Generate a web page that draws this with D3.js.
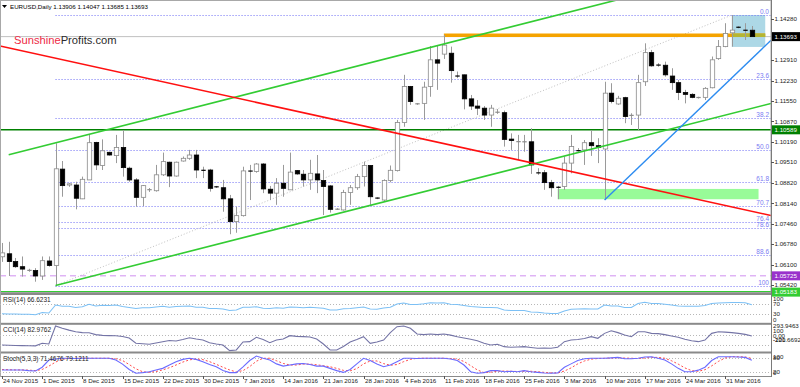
<!DOCTYPE html>
<html><head><meta charset="utf-8">
<script src="https://cdn.jsdelivr.net/npm/d3@7/dist/d3.min.js"></script>
<style>
html,body{margin:0;padding:0;background:#fff;overflow:hidden}
svg{display:block}
text{font-family:"Liberation Sans",Arial,sans-serif}
</style></head><body>
<svg id="chart" width="800" height="387"></svg>
<script>
// ---------------- DATA ----------------
const dates = ["2015-11-24","2015-11-25","2015-11-26","2015-11-27","2015-11-29","2015-11-30",
"2015-12-01","2015-12-02","2015-12-03","2015-12-04","2015-12-06","2015-12-07","2015-12-08","2015-12-09","2015-12-10","2015-12-11","2015-12-13","2015-12-14","2015-12-15","2015-12-16","2015-12-17","2015-12-18","2015-12-20","2015-12-21","2015-12-22","2015-12-23","2015-12-24","2015-12-27","2015-12-28","2015-12-29","2015-12-30","2015-12-31",
"2016-01-03","2016-01-04","2016-01-05","2016-01-06","2016-01-07","2016-01-08","2016-01-10","2016-01-11","2016-01-12","2016-01-13","2016-01-14","2016-01-15","2016-01-17","2016-01-18","2016-01-19","2016-01-20","2016-01-21","2016-01-22","2016-01-24","2016-01-25","2016-01-26","2016-01-27","2016-01-28","2016-01-29","2016-01-31",
"2016-02-01","2016-02-02","2016-02-03","2016-02-04","2016-02-05","2016-02-07","2016-02-08","2016-02-09","2016-02-10","2016-02-11","2016-02-12","2016-02-14","2016-02-15","2016-02-16","2016-02-17","2016-02-18","2016-02-19","2016-02-21","2016-02-22","2016-02-23","2016-02-24","2016-02-25","2016-02-26","2016-02-28","2016-02-29",
"2016-03-01","2016-03-02","2016-03-03","2016-03-04","2016-03-06","2016-03-07","2016-03-08","2016-03-09","2016-03-10","2016-03-11","2016-03-13","2016-03-14","2016-03-15","2016-03-16","2016-03-17","2016-03-18","2016-03-20","2016-03-21","2016-03-22","2016-03-23","2016-03-24","2016-03-25","2016-03-27","2016-03-28","2016-03-29","2016-03-30","2016-03-31",
"2016-04-01","2016-04-03","2016-04-04","2016-04-05"];

const open  = [1.0636,1.0646,1.0620,1.0603,1.0590,1.0590,1.0572,1.0622,1.0607,1.0928,1.0875,1.0875,1.0829,1.0892,1.1017,1.0940,1.0984,1.0973,1.1000,1.0931,1.0892,1.0834,1.0859,1.0856,1.0909,1.0951,1.0905,1.0955,1.0964,1.0975,1.0925,1.0925,1.0870,1.0866,1.0829,1.0753,1.0773,1.0922,1.0920,1.0945,1.0861,1.0848,1.0881,1.0859,1.0923,1.0911,1.0892,1.0912,1.0890,1.0872,1.0794,1.0792,1.0850,1.0866,1.0903,1.0940,1.0832,1.0825,1.0890,1.0923,1.1083,1.1203,1.1145,1.1147,1.1203,1.1292,1.1311,1.1314,1.1239,1.1242,1.1162,1.1138,1.1131,1.1108,1.1116,1.1116,1.1028,1.1019,1.1019,1.1019,1.0916,1.0916,1.0883,1.0868,1.0870,1.0948,1.0990,1.0992,1.1016,1.1006,1.0995,1.1181,1.1145,1.1166,1.1106,1.1108,1.1219,1.1316,1.1275,1.1274,1.1238,1.1216,1.1183,1.1177,1.1166,1.1167,1.1199,1.1296,1.1336,1.1382,1.1402,1.1391,1.13906];
const high  = [1.0682,1.0686,1.0632,1.0637,1.0596,1.0598,1.0637,1.0637,1.1014,1.0955,1.0882,1.0886,1.0903,1.1042,1.1019,1.1027,1.0986,1.1042,1.1058,1.0936,1.0898,1.0875,1.0865,1.0942,1.0983,1.0953,1.0953,1.0970,1.0992,1.0992,1.0936,1.0929,1.0872,1.0892,1.0842,1.0803,1.0936,1.0942,1.0948,1.0948,1.0872,1.0898,1.0942,1.0983,1.0925,1.0925,1.0959,1.0975,1.0925,1.0875,1.0798,1.0859,1.0875,1.0912,1.0953,1.0940,1.0834,1.0894,1.0940,1.1092,1.1242,1.1205,1.1148,1.1219,1.1338,1.1341,1.1375,1.1336,1.1253,1.1243,1.1175,1.1158,1.1138,1.1142,1.1128,1.1123,1.1047,1.1042,1.1042,1.1064,1.0931,1.0925,1.0892,1.0872,1.0970,1.1042,1.0998,1.1025,1.1058,1.1031,1.1219,1.1214,1.1172,1.1169,1.1114,1.1242,1.1347,1.1325,1.1281,1.1286,1.1264,1.1225,1.1192,1.1181,1.1169,1.1201,1.1303,1.1358,1.1414,1.1441,1.1404,1.1414,1.14047];
const low   = [1.0619,1.0572,1.0599,1.0570,1.0586,1.0553,1.0559,1.0603,1.0541,1.0836,1.0869,1.0794,1.0828,1.0892,1.0925,1.0925,1.0973,1.0948,1.0903,1.0886,1.0803,1.0805,1.0852,1.0853,1.0905,1.0868,1.0903,1.0953,1.0959,1.0898,1.0898,1.0853,1.0865,1.0786,1.0711,1.0716,1.0770,1.0825,1.0916,1.0848,1.0825,1.0809,1.0836,1.0859,1.0909,1.0870,1.0859,1.0848,1.0775,1.0783,1.0792,1.0790,1.0809,1.0859,1.0870,1.0809,1.0828,1.0819,1.0884,1.0920,1.1069,1.1142,1.1142,1.1092,1.1169,1.1192,1.1295,1.1216,1.1231,1.1127,1.1125,1.1108,1.1092,1.1069,1.1112,1.1003,1.0992,1.0959,1.0986,1.0912,1.0909,1.0859,1.0836,1.0828,1.0859,1.0914,1.0986,1.0942,1.0972,1.0948,1.0825,1.1147,1.1142,1.1081,1.1075,1.1058,1.1205,1.1269,1.1269,1.1236,1.1192,1.1158,1.1147,1.1164,1.1163,1.1158,1.1197,1.1292,1.1334,1.1336,1.1397,1.1358,1.13685];
const close = [1.0649,1.0620,1.0603,1.0595,1.0591,1.0572,1.0623,1.0607,1.0929,1.0873,1.0879,1.0831,1.0894,1.1016,1.0942,1.0989,1.0975,1.1000,1.0933,1.0892,1.0834,1.0873,1.0860,1.0909,1.0953,1.0905,1.0951,1.0964,1.0975,1.0925,1.0923,1.0864,1.0868,1.0829,1.0753,1.0773,1.0922,1.0921,1.0945,1.0862,1.0848,1.0881,1.0864,1.0918,1.0912,1.0892,1.0914,1.0892,1.0870,1.0794,1.0795,1.0850,1.0866,1.0903,1.0940,1.0836,1.0831,1.0890,1.0924,1.1083,1.1203,1.1153,1.1146,1.1201,1.1292,1.1281,1.1341,1.1256,1.1237,1.1162,1.1138,1.1131,1.1108,1.1131,1.1119,1.1027,1.1023,1.1020,1.1019,1.0942,1.0915,1.0883,1.0866,1.0867,1.0948,1.1003,1.0989,1.1016,1.1006,1.1000,1.1181,1.1153,1.1164,1.1103,1.1108,1.1216,1.1316,1.1272,1.1274,1.1242,1.1216,1.1183,1.1177,1.1167,1.1167,1.1197,1.1292,1.1336,1.1380,1.1391,1.1399,1.1390,1.13693];

const rsi = [31,30,30,29,29,27,36,34,66,61,61,56,59,69,62,65,64,66,60,56,52,55,55,58,61,57,60,61,62,57,57,52,52,50,44,46,57,57,59,53,52,55,53,58,57,55,57,55,53,46,46,51,52,55,58,50,49,54,57,70,74,68,68,71,75,74,75,69,68,64,60,58,56,56,55,46,44,44,44,38,37,34,32,32,42,49,50,51,50,50,66,62,62,56,56,72,77,72,72,69,66,62,61,61,61,64,72,74,75,76,76,75,66.6];
const cci = [-100,-105,-110,-112,-114,-118,-66,-80,284,237,200,169,150,148,110,95,90,88,70,40,-66,-75,-86,-60,-33,-10,-20,10,47,20,0,-54,-80,-100,-215,-200,-40,-33,55,10,-54,0,20,88,75,68,60,20,-80,-201,-201,-130,-40,10,68,-66,-40,0,150,270,284,237,122,110,122,110,122,100,68,40,15,-13,-66,-100,-86,-134,-147,-140,-134,-150,-167,-160,-167,-147,-33,0,10,30,68,35,135,188,150,100,68,168,168,135,130,110,82,55,15,-13,-33,0,135,168,160,150,135,115,83];
const stochK = [28,28,28,28,25,23,40,72,77,80,80,79,80,80,80,80,80,72,54,30,13,16,20,28,35,50,65,75,80,75,65,52,42,25,16,16,42,70,90,80,72,55,45,50,55,57,52,45,45,35,25,17,30,55,80,70,55,42,50,65,80,80,79,80,80,80,80,77,70,50,20,13,16,25,25,20,22,20,25,20,17,14,13,15,40,55,70,78,80,80,80,82,84,78,78,80,86,87,80,72,55,35,20,20,27,40,70,87,87,87,86,84,71.5];
const stochD = [30,29,28,28,27,25,30,45,63,76,79,80,80,80,80,80,80,78,70,52,33,20,17,21,28,38,50,63,73,77,74,65,53,40,28,19,25,43,67,80,80,69,57,50,50,54,54,51,47,42,35,26,24,34,55,68,68,56,49,52,65,75,80,80,80,80,80,79,76,66,47,28,16,18,22,23,22,21,22,22,20,17,15,14,23,37,55,68,76,79,80,81,82,81,80,79,81,84,84,80,69,54,37,25,22,29,46,66,81,87,87,86,79.1];

const priceTicks = [1.14280,1.12910,1.12230,1.11550,1.10870,1.10190,1.09510,1.08820,1.08140,1.07460,1.06780,1.06100,1.05420];
const dateTicks = ["2015-11-24","2015-12-01","2015-12-08","2015-12-15","2015-12-22","2015-12-30","2016-01-07","2016-01-14","2016-01-21","2016-01-28","2016-02-04","2016-02-11","2016-02-18","2016-02-25","2016-03-03","2016-03-10","2016-03-17","2016-03-24","2016-03-31"];
const fibRatios = [0,23.6,38.2,50.0,61.8,70.7,76.4,78.6,88.6,100];
const fibLabels = ["0.0","23.6","38.2","50.0","61.8","70.7","76.4","78.6","88.6","100"];
const fibHighBar = 109, fibHigh = 1.1441, fibLowBar = 8, fibLow = 1.0540;
const bidPrice = 1.13693, supportLevel = 1.10589, violetLevel = 1.05725, bottomLevel = 1.05183;
const resistanceLevel = 1.1374, resistanceStartBar = 66;
const upperChannel = [[1, 1.09756],[91, 1.14866]];
const lowerChannel = [[8, 1.05406],[80, 1.0949]];
const redLine = [[0, 1.13367],[100, 1.08464]];
const blueLine = [[90, 1.0825],[106, 1.11675]];
const greenZone = {from: 83, to: 113, top: 1.0862, bottom: 1.08276};
const blueZone = {from: 109, to: 114, top: 1.14413, bottom: 1.1335};
const rsiLevels = [100,70,30,0];
const cciLevels = [293.9463,100,0,-100,-221.6692];
const cciLabels = ["293.9463","100","0.00","-100","-221.6692"];
const stochLevels = [100,80,20,0];
const rsiTitle = "RSI(14) 66.6231", cciTitle = "CCI(14) 82.9762", stochTitle = "Stoch(5,3,3) 71.4676 79.1211";

// ---------------- LAYOUT ----------------
const svg = d3.select('#chart');
const PR = 771;
const N = dates.length;
const x = d3.scaleLinear().domain([0, N-1]).range([2, 2 + (N-1)*6.695]);
const y = d3.scaleLinear().domain([1.05420, 1.14280]).range([285, 19]);
const rsiY = d3.scaleLinear().domain([0,100]).range([321.5,296.5]);
const cciY = d3.scaleLinear().domain([-221.6692,293.9463]).range([351,325.5]);
const stY = d3.scaleLinear().domain([0,100]).range([376.2,353.8]);
const parse = d3.timeParse('%Y-%m-%d'), fmt = d3.timeFormat('%-d %b %Y');
const FS = 6.2;

const defs = svg.append('defs');
defs.append('clipPath').attr('id','mclip').append('rect').attr('x',0).attr('y',0).attr('width',PR).attr('height',292.5);
defs.append('clipPath').attr('id','rclip').append('rect').attr('x',0).attr('y',295).attr('width',PR).attr('height',28);
defs.append('clipPath').attr('id','cclip').append('rect').attr('x',0).attr('y',325).attr('width',PR).attr('height',26.5);
defs.append('clipPath').attr('id','sclip').append('rect').attr('x',0).attr('y',353.5).attr('width',PR).attr('height',22.5);

const gm = svg.append('g').attr('clip-path','url(#mclip)');

function lineThrough(p, xFrom, xTo){
  const x1=x(p[0][0]), y1=y(p[0][1]), x2=x(p[1][0]), y2=y(p[1][1]);
  const s=(y2-y1)/(x2-x1);
  return [[xFrom, y1+s*(xFrom-x1)],[xTo, y1+s*(xTo-x1)]];
}

// zones
gm.append('rect').attr('x',x(greenZone.from)).attr('y',y(greenZone.top))
  .attr('width',x(greenZone.to)-x(greenZone.from)).attr('height',y(greenZone.bottom)-y(greenZone.top)).attr('fill','#98fb98');
gm.append('rect').attr('x',x(blueZone.from)).attr('y',y(blueZone.top))
  .attr('width',x(blueZone.to)-x(blueZone.from)).attr('height',y(blueZone.bottom)-y(blueZone.top)).attr('fill','#add8e6');

// fib levels
const fibX0 = x(fibLowBar);
fibRatios.forEach((r,i)=>{
  const p = fibHigh - r/100*(fibHigh-fibLow);
  gm.append('line').attr('x1',fibX0).attr('x2',PR).attr('y1',Math.round(y(p))+0.5).attr('y2',Math.round(y(p))+0.5)
    .attr('stroke','#6f6ff5').attr('stroke-width',1).attr('stroke-dasharray','1,2');
  gm.append('text').attr('x',PR-2).attr('y',Math.round(y(p))-1).attr('text-anchor','end')
    .attr('font-size',6.5).attr('fill','#7b7bf2').text(fibLabels[i]);
});
// fib trend dotted
gm.append('line').attr('x1',x(fibLowBar)).attr('y1',y(fibLow)).attr('x2',x(fibHighBar)).attr('y2',y(fibHigh))
  .attr('stroke','#c0c0c0').attr('stroke-width',1).attr('stroke-dasharray','1,2');

// horizontal lines
function hline(p, color, w, dash){
  const l=gm.append('line').attr('x1',0).attr('x2',PR).attr('y1',y(p)).attr('y2',y(p)).attr('stroke',color).attr('stroke-width',w);
  if(dash) l.attr('stroke-dasharray',dash);
}
hline(bidPrice,'#c0c0c0',1);
hline(violetLevel,'#d08ef0',1,'6,4');
hline(supportLevel,'#008000',1.6);

// orange resistance & overlap
gm.append('line').attr('x1',x(resistanceStartBar)).attr('x2',x(blueZone.to)).attr('y1',y(resistanceLevel)).attr('y2',y(resistanceLevel))
  .attr('stroke','#f5a300').attr('stroke-width',3.5);
gm.append('line').attr('x1',x(blueZone.from)).attr('x2',x(blueZone.to)).attr('y1',y(resistanceLevel)).attr('y2',y(resistanceLevel))
  .attr('stroke','#b4b632').attr('stroke-width',3.5);

// candles
const bw = 4.4;
const cg = gm.append('g');
d3.range(N).forEach(i=>{
  const cx = Math.round(x(i))+0.5;
  const up = close[i] >= open[i];
  cg.append('line').attr('x1',cx).attr('x2',cx).attr('y1',y(high[i])).attr('y2',y(low[i])).attr('stroke','#9a9a9a').attr('stroke-width',1);
  const yt = y(Math.max(open[i],close[i])), yb = y(Math.min(open[i],close[i]));
  if (yb-yt < 1.2){
    cg.append('line').attr('x1',cx-bw/2).attr('x2',cx+bw/2).attr('y1',(yt+yb)/2).attr('y2',(yt+yb)/2)
      .attr('stroke', up ? '#8a8a8a' : '#000').attr('stroke-width',1.2);
  } else {
    cg.append('rect').attr('x',cx-bw/2).attr('y',yt).attr('width',bw).attr('height',yb-yt)
      .attr('fill', up ? '#fff' : '#000').attr('stroke', up ? '#8a8a8a' : '#000').attr('stroke-width',0.8);
  }
});

// trend lines
const tl = d3.line();
function drawTrend(pts, color, w, xFrom, xTo){
  gm.append('path').attr('d', tl(lineThrough(pts, xFrom, xTo))).attr('stroke',color).attr('stroke-width',w).attr('fill','none');
}
drawTrend(upperChannel,'#33cc33',1.6,x(upperChannel[0][0]),PR);
drawTrend(lowerChannel,'#33cc33',1.6,x(lowerChannel[0][0]),PR);
drawTrend(redLine,'#ff1010',1.6,0,PR);
drawTrend(blueLine,'#2d8cf0',1.4,x(blueLine[0][0]),PR);

// bottom green level
hline(bottomLevel,'#33cc33',2.2);

// header texts
svg.append('path').attr('d','M2,5 L7,5 L4.5,8 Z').attr('fill','#000');
svg.append('text').attr('x',10).attr('y',9).attr('font-size',FS).attr('fill','#000')
  .text(`EURUSD,Daily  ${open[N-1].toFixed(5)} ${high[N-1].toFixed(5)} ${low[N-1].toFixed(5)} ${close[N-1].toFixed(5)}`);
const brand = svg.append('text').attr('x',14).attr('y',44).attr('font-size',11.2);
brand.append('tspan').attr('fill','#ee2b45').text('Sunshine');
brand.append('tspan').attr('fill','#2a2a2a').text('Profits.com');

// frame & separators
svg.append('rect').attr('x',0.5).attr('y',0.5).attr('width',PR-0.5).attr('height',292).attr('fill','none').attr('stroke','#a8a8a8');
[[292.8,2.2],[322.8,2],[351.5,2],[376,1]].forEach(s=>{
  svg.append('rect').attr('x',0).attr('y',s[0]).attr('width',PR).attr('height',s[1]).attr('fill','#8a8a8a');
});
svg.append('line').attr('x1',PR+0.5).attr('x2',PR+0.5).attr('y1',0).attr('y2',377).attr('stroke','#7a7a7a');
svg.append('line').attr('x1',0.5).attr('x2',0.5).attr('y1',0).attr('y2',377).attr('stroke','#a8a8a8');

// price axis
priceTicks.forEach(p=>{
  svg.append('line').attr('x1',PR).attr('x2',PR+3).attr('y1',Math.round(y(p))+0.5).attr('y2',Math.round(y(p))+0.5).attr('stroke','#555');
  svg.append('text').attr('x',PR+3.5).attr('y',y(p)).attr('dy','0.35em').attr('font-size',FS).attr('fill','#222').text(p.toFixed(5));
});
function axisBox(p, bg){
  svg.append('rect').attr('x',PR+1).attr('y',y(p)-4.5).attr('width',800-PR-1).attr('height',9).attr('fill',bg);
  svg.append('text').attr('x',PR+3.5).attr('y',y(p)).attr('dy','0.35em').attr('font-size',FS).attr('fill','#fff').text(p.toFixed(5));
}
axisBox(bidPrice,'#000');
axisBox(supportLevel,'#008000');
axisBox(violetLevel,'#9932cc');
axisBox(bottomLevel,'#33cc33');

// ---------------- INDICATORS ----------------
const line = (sc)=> d3.line().x((d,i)=>x(i)).y(d=>sc(d));
function levelLines(sc, levels, clip){
  const g = svg.append('g').attr('clip-path',`url(#${clip})`);
  levels.forEach(v=>{
    g.append('line').attr('x1',0).attr('x2',PR).attr('y1',Math.round(sc(v))+0.5).attr('y2',Math.round(sc(v))+0.5)
      .attr('stroke','#b8b8b8').attr('stroke-dasharray','1,2');
  });
  return g;
}
function sideLabels(sc, levels, labels, top, bot, shift){
  levels.forEach((v,i)=>{
    const yy = Math.max(top, Math.min(bot, sc(v) + (shift||0)));
    svg.append('text').attr('x',PR+2).attr('y',yy).attr('dy','0.35em').attr('font-size',FS).attr('fill','#222').text(labels[i]);
  });
}
// RSI
const gr = levelLines(rsiY,[70,30],'rclip');
gr.append('path').attr('d',line(rsiY)(rsi)).attr('fill','none').attr('stroke','#7cc0f5').attr('stroke-width',1.1);
svg.append('text').attr('x',3).attr('y',299.5).attr('dy','0.35em').attr('font-size',6.5).attr('fill','#222').text(rsiTitle);
sideLabels(rsiY, rsiLevels, rsiLevels.map(String), 298.4, 319.6);
// CCI
const gc = levelLines(cciY,[100,-100],'cclip');
gc.append('path').attr('d',line(cciY)(cci)).attr('fill','none').attr('stroke','#7474a6').attr('stroke-width',1.1);
svg.append('text').attr('x',3).attr('y',329.5).attr('dy','0.35em').attr('font-size',6.5).attr('fill','#222').text(cciTitle);
sideLabels(cciY, cciLevels, cciLabels, 325.5, 339.5, -4);
// Stoch
const gs = levelLines(stY,[80,20],'sclip');
gs.append('path').attr('d',line(stY)(stochD)).attr('fill','none').attr('stroke','#ff4a4a').attr('stroke-width',1).attr('stroke-dasharray','2,2');
gs.append('path').attr('d',line(stY)(stochK)).attr('fill','none').attr('stroke','#6b6bff').attr('stroke-width',1.1);
svg.append('text').attr('x',3).attr('y',358.3).attr('dy','0.35em').attr('font-size',6.5).attr('fill','#222').text(stochTitle);
sideLabels(stY, stochLevels, stochLevels.map(String), 357, 372.6);

// date axis
dateTicks.forEach(dstr=>{
  const i = dates.indexOf(dstr);
  const xx = Math.round(x(i))+0.5;
  svg.append('line').attr('x1',xx).attr('x2',xx).attr('y1',376).attr('y2',379).attr('stroke','#555');
  svg.append('text').attr('x',xx+0.5).attr('y',381).attr('dy','0.35em').attr('font-size',FS).attr('fill','#222').text(fmt(parse(dstr)));
});
</script>
</body></html>
